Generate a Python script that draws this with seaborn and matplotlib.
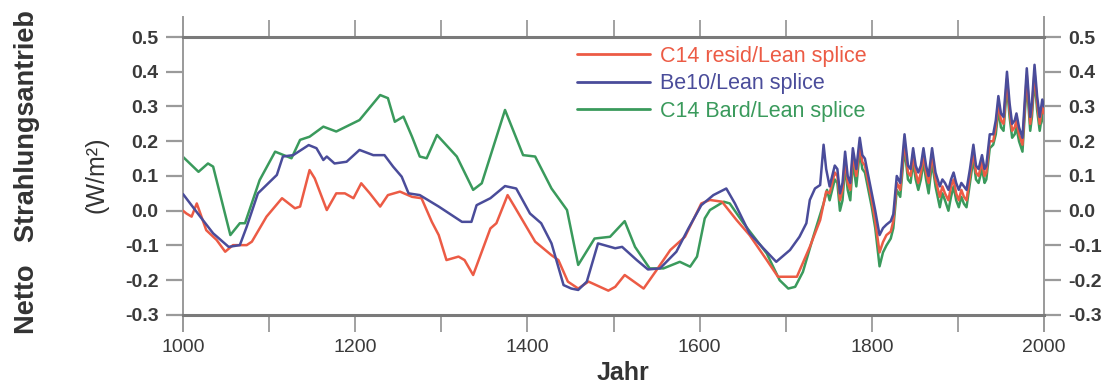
import numpy as np
import matplotlib
matplotlib.use("Agg")
import matplotlib.pyplot as plt
from matplotlib.ticker import FixedLocator, FuncFormatter
import seaborn as sns

# ---------------- data ----------------
labels = ["C14 resid/Lean splice", "Be10/Lean splice", "C14 Bard/Lean splice"]
colors = ["#ec5b45", "#4a4c9a", "#3a9a5c"]

red_years_early = [1000, 1004, 1010, 1016, 1027, 1039, 1049, 1058, 1074, 1080, 1097, 1115, 1130, 1136,
                   1147, 1153, 1167, 1178, 1188, 1198, 1207, 1217, 1229, 1238, 1252, 1266, 1277, 1289,
                   1297, 1306, 1320, 1327, 1337, 1357, 1364, 1377, 1385, 1409, 1428, 1436, 1447, 1459,
                   1471, 1494, 1502, 1513, 1535, 1550, 1566, 1583, 1602, 1612, 1626, 1643, 1658, 1678,
                   1691, 1713, 1728, 1740, 1747]
red_early = [0.000, -0.008, -0.017, 0.021, -0.056, -0.084, -0.118, -0.099, -0.099, -0.089, -0.017, 0.036,
             0.007, 0.012, 0.117, 0.093, 0.002, 0.050, 0.050, 0.036, 0.079, 0.050, 0.012, 0.045, 0.055,
             0.040, 0.036, -0.032, -0.070, -0.142, -0.132, -0.142, -0.185, -0.051, -0.036, 0.045, 0.012,
             -0.089, -0.128, -0.142, -0.204, -0.224, -0.204, -0.230, -0.219, -0.185, -0.224, -0.171,
             -0.113, -0.075, 0.021, 0.031, 0.026, -0.027, -0.070, -0.142, -0.190, -0.190, -0.104,
             -0.027, 0.055]

blue_years_early = [1000, 1020, 1035, 1053, 1066, 1074, 1087, 1109, 1116, 1128, 1146, 1155, 1163, 1167,
                    1176, 1190, 1205, 1221, 1234, 1244, 1254, 1262, 1275, 1297, 1324, 1335, 1341, 1357,
                    1374, 1387, 1403, 1416, 1428, 1442, 1451, 1459, 1469, 1482, 1502, 1510, 1527, 1540,
                    1554, 1573, 1587, 1602, 1616, 1631, 1641, 1658, 1674, 1689, 1705, 1716, 1724, 1728,
                    1734, 1740, 1744, 1747]
blue_early = [0.048, -0.017, -0.065, -0.104, -0.099, -0.046, 0.050, 0.103, 0.156, 0.160, 0.189, 0.180,
              0.146, 0.156, 0.136, 0.141, 0.175, 0.160, 0.160, 0.127, 0.098, 0.050, 0.045, 0.012, -0.032,
              -0.032, 0.016, 0.036, 0.071, 0.064, -0.008, -0.036, -0.094, -0.214, -0.224, -0.228, -0.204,
              -0.094, -0.108, -0.104, -0.142, -0.169, -0.166, -0.118, -0.051, 0.016, 0.045, 0.064, 0.021,
              -0.065, -0.108, -0.147, -0.113, -0.075, -0.036, 0.031, 0.064, 0.074, 0.190, 0.120]

green_years_early = [1000, 1018, 1029, 1035, 1055, 1066, 1072, 1089, 1107, 1126, 1136, 1147, 1163, 1178,
                     1205, 1229, 1238, 1246, 1256, 1266, 1275, 1283, 1295, 1318, 1337, 1347, 1374, 1395,
                     1409, 1428, 1446, 1459, 1478, 1496, 1513, 1525, 1542, 1558, 1577, 1589, 1597, 1606,
                     1612, 1628, 1635, 1651, 1678, 1693, 1703, 1711, 1720, 1732, 1744, 1748]
green_early = [0.155, 0.112, 0.136, 0.127, -0.070, -0.036, -0.036, 0.088, 0.170, 0.151, 0.204, 0.213,
               0.242, 0.228, 0.261, 0.333, 0.324, 0.256, 0.271, 0.213, 0.156, 0.151, 0.218, 0.156, 0.060,
               0.079, 0.290, 0.160, 0.156, 0.064, 0.002, -0.156, -0.080, -0.075, -0.030, -0.104, -0.166,
               -0.166, -0.147, -0.161, -0.132, -0.022, 0.002, 0.026, 0.021, -0.036, -0.123, -0.200, -0.224,
               -0.219, -0.176, -0.075, 0.021, 0.060]

years_modern = [1751, 1754, 1757, 1760, 1763, 1766, 1769, 1772, 1775, 1778, 1782, 1786, 1789, 1792, 1796,
                1800, 1804, 1809, 1813, 1817, 1822, 1825, 1829, 1833, 1838, 1842, 1845, 1848, 1851, 1854,
                1857, 1860, 1863, 1866, 1870, 1874, 1879, 1882, 1885, 1889, 1892, 1895, 1898, 1901, 1904,
                1907, 1910, 1914, 1918, 1921, 1924, 1928, 1931, 1933, 1937, 1941, 1944, 1947, 1950, 1953,
                1957, 1960, 1963, 1966, 1968, 1971, 1975, 1978, 1980, 1984, 1986, 1989, 1992, 1995, 1998,
                2000]
blue_modern = [0.07, 0.10, 0.13, 0.12, 0.05, 0.08, 0.17, 0.10, 0.08, 0.18, 0.12, 0.21, 0.16, 0.15, 0.10,
               0.05, 0.00, -0.07, -0.05, -0.04, -0.03, -0.01, 0.10, 0.08, 0.22, 0.13, 0.12, 0.18, 0.13, 0.11,
               0.13, 0.18, 0.13, 0.10, 0.18, 0.11, 0.07, 0.09, 0.08, 0.06, 0.09, 0.11, 0.08, 0.06, 0.08,
               0.07, 0.06, 0.12, 0.19, 0.13, 0.12, 0.16, 0.12, 0.13, 0.22, 0.22, 0.26, 0.33, 0.28, 0.27,
               0.40, 0.31, 0.25, 0.26, 0.28, 0.24, 0.21, 0.33, 0.41, 0.27, 0.31, 0.42, 0.33, 0.27, 0.32,
               0.30]
red_modern = [0.05, 0.08, 0.11, 0.10, 0.03, 0.06, 0.15, 0.08, 0.06, 0.16, 0.10, 0.19, 0.14, 0.13, 0.08,
              0.03, -0.03, -0.12, -0.09, -0.07, -0.06, -0.03, 0.08, 0.06, 0.20, 0.11, 0.10, 0.16, 0.11, 0.08,
              0.11, 0.16, 0.11, 0.08, 0.16, 0.09, 0.04, 0.07, 0.05, 0.03, 0.07, 0.09, 0.05, 0.03, 0.06,
              0.04, 0.03, 0.10, 0.17, 0.11, 0.10, 0.14, 0.10, 0.11, 0.20, 0.20, 0.24, 0.31, 0.26, 0.25,
              0.38, 0.29, 0.23, 0.24, 0.26, 0.22, 0.19, 0.31, 0.39, 0.25, 0.29, 0.40, 0.31, 0.25, 0.30,
              0.28]
green_modern = [0.03, 0.06, 0.09, 0.08, 0.00, 0.03, 0.13, 0.06, 0.03, 0.14, 0.07, 0.17, 0.12, 0.11, 0.06,
                0.01, -0.05, -0.16, -0.12, -0.10, -0.08, -0.05, 0.06, 0.04, 0.18, 0.09, 0.08, 0.14, 0.09, 0.06,
                0.09, 0.14, 0.09, 0.05, 0.14, 0.07, 0.01, 0.05, 0.03, 0.00, 0.04, 0.07, 0.03, 0.01, 0.04,
                0.02, 0.01, 0.08, 0.15, 0.09, 0.08, 0.12, 0.08, 0.09, 0.18, 0.19, 0.22, 0.29, 0.24, 0.23,
                0.36, 0.27, 0.21, 0.22, 0.24, 0.20, 0.17, 0.29, 0.37, 0.23, 0.27, 0.38, 0.29, 0.23, 0.28,
                0.25]

x_ticks = list(range(1000, 2001, 100))
y_ticks = [-0.3, -0.2, -0.1, 0.0, 0.1, 0.2, 0.3, 0.4, 0.5]

# ---------------- figure ----------------
sns.set_theme(style="white")
plt.rcParams['font.family'] = ['Liberation Sans', 'DejaVu Sans']
plt.rcParams['axes.unicode_minus'] = False

W, H = 1108, 386
fig = plt.figure(figsize=(W / 100, H / 100), dpi=100)
ylo, yhi = -0.345, 0.557
ax = fig.add_axes([183 / W, 1 - 330.6 / H, (1044 - 183) / W, (330.6 - 17.2) / H])

series = [
    (red_years_early + years_modern, red_early + red_modern, 0),
    (blue_years_early + years_modern, blue_early + blue_modern, 1),
    (green_years_early + years_modern, green_early + green_modern, 2),
]
zorders = {0: 3, 1: 4, 2: 2}
for xs, ys, i in series:
    sns.lineplot(x=xs, y=ys, ax=ax, color=colors[i], linewidth=1.8, estimator=None,
                 label=labels[i], zorder=zorders[i])

ax.set_xlim(1000, 2000)
ax.set_ylim(ylo, yhi)

# frame
for s in ["left", "right"]:
    ax.spines[s].set_visible(True)
    ax.spines[s].set_color("#9a9a9a")
    ax.spines[s].set_linewidth(1.4)
ax.spines["top"].set_position(("data", 0.5))
ax.spines["bottom"].set_position(("data", -0.3))
for s in ["top", "bottom"]:
    ax.spines[s].set_visible(True)
    ax.spines[s].set_color("#7a7a7a")
    ax.spines[s].set_linewidth(2.2)

ax.xaxis.set_major_locator(FixedLocator(x_ticks))
ax.xaxis.set_major_formatter(FuncFormatter(lambda v, p: f"{int(round(v))}" if int(round(v)) % 200 == 0 else ""))
ax.yaxis.set_major_locator(FixedLocator(y_ticks))
ax.yaxis.set_major_formatter(FuncFormatter(lambda v, p: f"{v:.1f}".replace("-0.0", "0.0")))

ax.tick_params(axis="x", which="major", direction="out", length=12.5, width=1.3, color="#9a9a9a",
               top=True, bottom=True, labeltop=False, labelbottom=True, labelsize=14,
               labelcolor="#3a3a3a", pad=5)
ax.tick_params(axis="y", which="major", direction="out", length=12.5, width=1.6, color="#9a9a9a",
               left=True, right=True, labelleft=True, labelright=True, labelsize=14,
               labelcolor="#3a3a3a", pad=5)
for t in ax.get_yticklabels():
    t.set_fontweight("bold")
ax.grid(False)

ax.set_xlabel("")
ax.set_ylabel("")
fig.text(623 / W, 1 - 373 / H, "Jahr", ha="center", va="center", fontsize=18, fontweight="bold",
         color="#333333")
fig.text(27 / W, 1 - 172 / H, "Netto   Strahlungsantrieb", rotation=90, ha="center", va="center",
         fontsize=19.5, fontweight="bold", color="#333333")
fig.text(97 / W, 1 - 175 / H, "(W/m²)", rotation=90, ha="center", va="center",
         fontsize=18, color="#333333")

# legend
h, l = ax.get_legend_handles_labels()
leg = ax.legend(h, l, loc="upper left", bbox_to_anchor=(577 / W, 1 - 46 / H),
                bbox_transform=fig.transFigure, frameon=False, fontsize=15.5,
                handlelength=3.4, handletextpad=0.45, labelspacing=0.3, borderpad=0,
                borderaxespad=0)
for txt, c in zip(leg.get_texts(), colors):
    txt.set_color(c)
for ln in leg.get_lines():
    ln.set_linewidth(2.0)

fig.savefig("out.png", dpi=100)
